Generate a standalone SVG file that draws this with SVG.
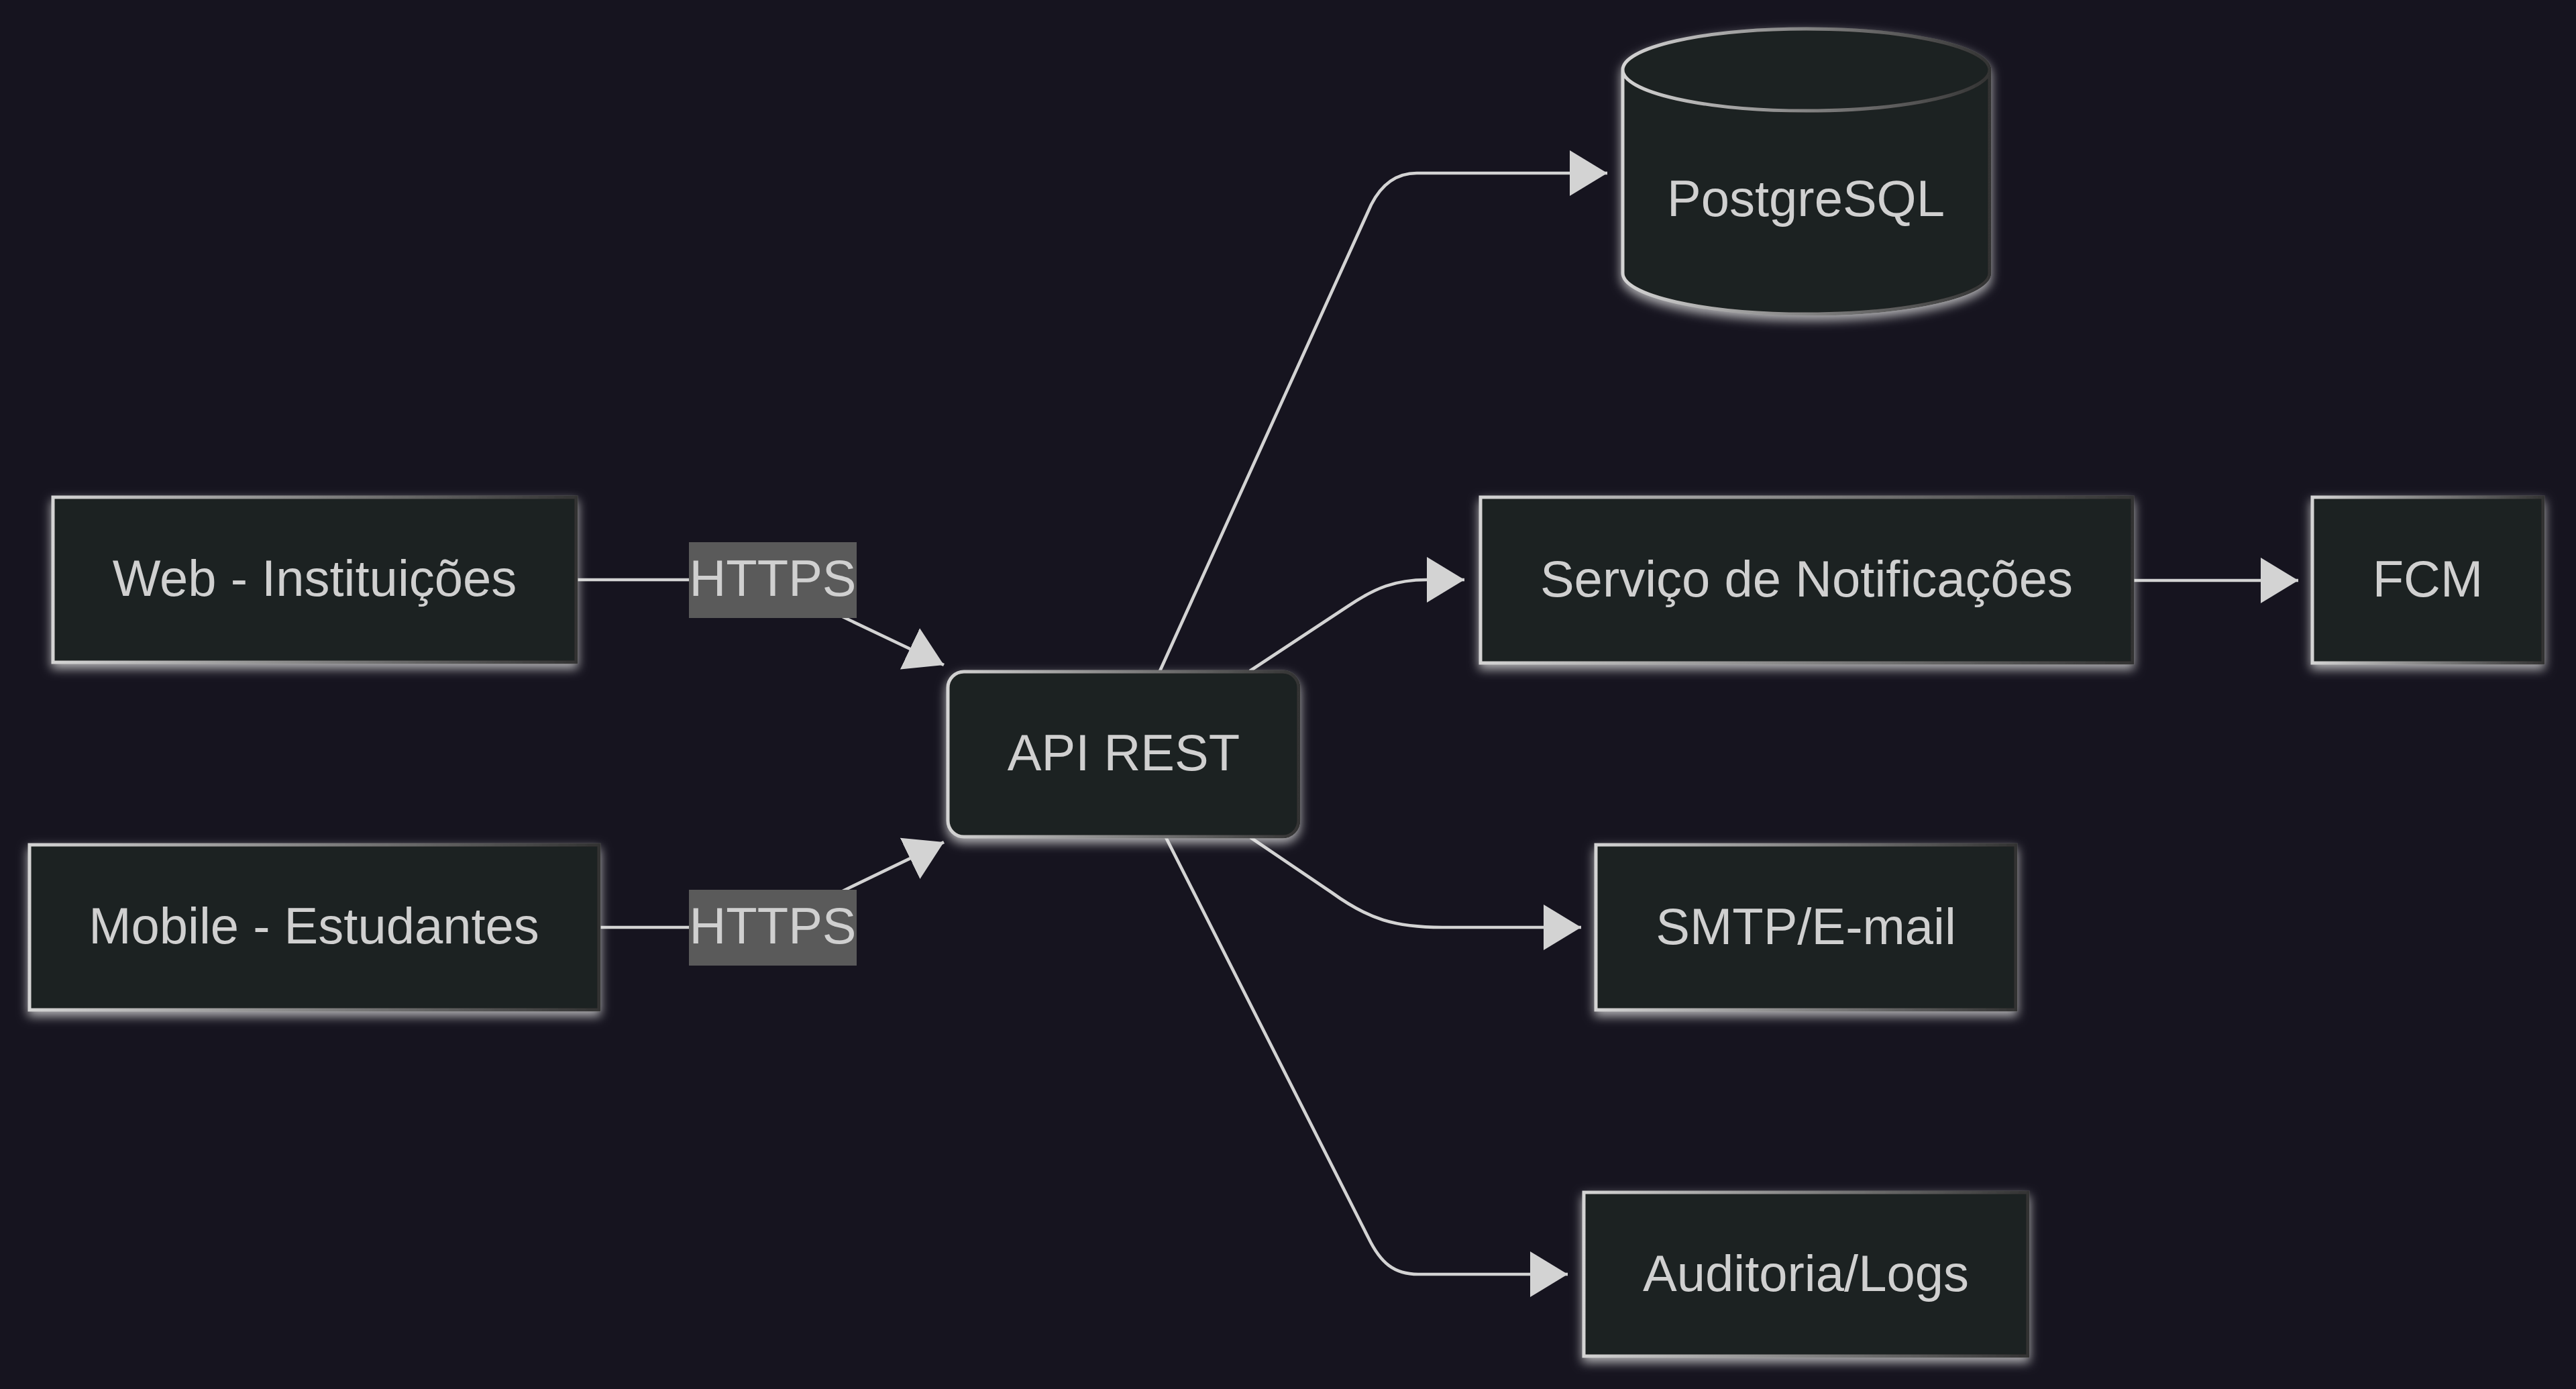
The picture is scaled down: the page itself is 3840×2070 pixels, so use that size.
<svg xmlns="http://www.w3.org/2000/svg" width="3840" height="2070" viewBox="0 0 3840 2070">
<defs>
<style>
.node{fill:#1f2120;stroke:url(#sg);stroke-width:5;filter:url(#glow)}
.lbl{font-family:"Liberation Sans",Arial,sans-serif;font-size:76px;fill:#d0d0d0;text-anchor:middle}
.edge{fill:none;stroke:#d3d3d3;stroke-width:4.7;marker-end:url(#arr)}
.elbl{fill:#5a5a5a}
</style>
<linearGradient id="sg" x1="0" y1="0" x2="1" y2="0">
<stop offset="0" stop-color="#d4d4d4"/>
<stop offset="1" stop-color="#333333"/>
</linearGradient>
<filter id="glow" x="-15%" y="-20%" width="130%" height="150%">
<feDropShadow dx="0" dy="7" stdDeviation="8" flood-color="#e8e8e8" flood-opacity="0.75"/>
</filter>
<marker id="arr" markerUnits="userSpaceOnUse" viewBox="0 0 56 68" refX="56" refY="34" markerWidth="56" markerHeight="68" orient="auto">
<path d="M0,0 L56,34 L0,68 z" fill="#d3d3d3"/>
</marker>
</defs>
<rect width="3840" height="2070" fill="#16141f"/>
<g id="connectors">
<path class="edge" d="M859,864 L1120,864 C1180,864 1210,897 1262,922 L1407,991"/>
<path class="edge" d="M893,1382 L1120,1382 C1180,1382 1210,1350 1262,1325 L1407,1255"/>
<path class="edge" d="M1729,1000 L2044,305 Q2068,258 2112,258 L2396,258"/>
<path class="edge" d="M1863,1000 L2010,903 C2050,876 2080,864 2127,864 L2183,864"/>
<path class="edge" d="M1864,1248 L1985,1330 C2040,1370 2080,1382 2150,1382 L2357,1382"/>
<path class="edge" d="M1738,1248 L2040,1845 C2058,1882 2078,1899 2114,1899 L2337,1899"/>
<path class="edge" d="M3179,865 L3426,865"/>
<g id="edge-label-web">
<rect class="elbl" x="1027" y="808" width="250" height="113"/>
<text class="lbl" x="1152" y="888">HTTPS</text>
</g>
<g id="edge-label-mobile">
<rect class="elbl" x="1027" y="1326" width="250" height="113"/>
<text class="lbl" x="1152" y="1406">HTTPS</text>
</g>
</g>
<g id="web">
<rect class="node" x="79" y="741" width="780" height="246"/>
<text class="lbl" x="469" y="888">Web - Instituições</text>
</g>
<g id="mobile">
<rect class="node" x="44" y="1259" width="849" height="246"/>
<text class="lbl" x="468" y="1406">Mobile - Estudantes</text>
</g>
<g id="api">
<rect class="node" x="1413" y="1001" width="523" height="246" rx="24" ry="24"/>
<text class="lbl" x="1675" y="1148">API REST</text>
</g>
<g id="postgres">
<path class="node" d="M2419,104 a273,61 0 0 0 547,0 a273,61 0 0 0 -547,0 l0,303 a273,61 0 0 0 547,0 l0,-303"/>
<text class="lbl" x="2692" y="322">PostgreSQL</text>
</g>
<g id="notif">
<rect class="node" x="2207" y="741" width="972" height="247"/>
<text class="lbl" x="2693" y="889">Serviço de Notificações</text>
</g>
<g id="fcm">
<rect class="node" x="3447" y="741" width="344" height="247"/>
<text class="lbl" x="3619" y="889">FCM</text>
</g>
<g id="smtp">
<rect class="node" x="2379" y="1259" width="626" height="246"/>
<text class="lbl" x="2692" y="1407">SMTP/E-mail</text>
</g>
<g id="audit">
<rect class="node" x="2361" y="1777" width="662" height="244"/>
<text class="lbl" x="2692" y="1924">Auditoria/Logs</text>
</g>
</svg>
